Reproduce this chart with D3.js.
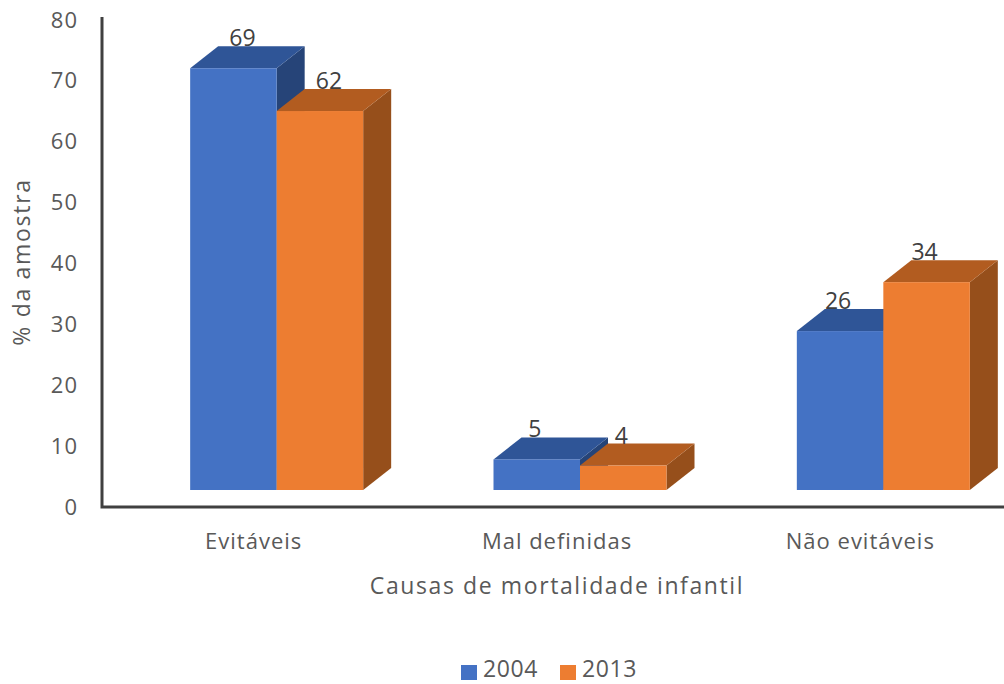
<!DOCTYPE html>
<html>
<head>
    <meta charset="utf-8">
    <title>Causas de mortalidade infantil</title>
    <style>
        html, body { margin: 0; padding: 0; background: #fff; }
        svg { display: block; }
        text { font-family: "Open Sans", "Noto Sans", sans-serif; fill: #595959; }
        .tick text { font-size: 22px; letter-spacing: 1px; }
        .axis-title { font-size: 23px; }
        .value { font-size: 23px; fill: #404040; text-anchor: middle; }
    </style>
</head>
<body>
<div id="chart"></div>

<script src="https://d3js.org/d3.v7.min.js"></script>
<script>
    const categories = ['Evitáveis', 'Mal definidas', 'Não evitáveis'];
    const years = ['2004', '2013'];
    const values2004 = [69, 5, 26];
    const values2013 = [62, 4, 34];
    const yTicks = [0, 10, 20, 30, 40, 50, 60, 70, 80];

    const colors = {
        '2004': { front: '#4472c4', top: '#2f5597', side: '#264478' },
        '2013': { front: '#ed7d31', top: '#b25c20', side: '#964f1b' }
    };

    const width = 1004;
    const height = 684;
    const axisX = 102;
    const axisY = 507;

    // fake 3D: the front faces sit forward of the floor, the depth runs up and to the right
    const depthX = 28;
    const depthY = 22;
    const frontShift = 23;
    const floorY = 490;

    const svg = d3.select('#chart').append('svg')
        .attr('width', width)
        .attr('height', height);

    const x = d3.scaleBand().domain(categories).range([axisX, 1012]);
    const series = d3.scaleBand().domain(years).range([0, 173]);
    const y = d3.scaleLinear().domain([0, 80]).range([axisY, 20]);
    const barHeight = d3.scaleLinear().domain([0, 80]).range([0, 489]);

    const bars = [];
    categories.forEach((c, i) => {
        bars.push({ category: c, year: '2004', value: values2004[i], index: i });
        bars.push({ category: c, year: '2013', value: values2013[i], index: i });
    });

    function barLeft(d) {
        return x(d.category) + x.bandwidth() / 2 + frontShift - series.bandwidth() + series(d.year);
    }

    const bar = svg.append('g').selectAll('g')
        .data(bars)
        .enter().append('g');

    bar.append('path')
        .attr('fill', d => colors[d.year].side)
        .attr('d', d => {
            const r = barLeft(d) + series.bandwidth();
            const t = floorY - barHeight(d.value);
            return d3.line()([[r, t], [r + depthX, t - depthY], [r + depthX, floorY - depthY], [r, floorY]]);
        });

    bar.append('path')
        .attr('fill', d => colors[d.year].top)
        .attr('d', d => {
            const l = barLeft(d);
            const r = l + series.bandwidth();
            const t = floorY - barHeight(d.value);
            return d3.line()([[l, t], [l + depthX, t - depthY], [r + depthX, t - depthY], [r, t]]);
        });

    bar.append('rect')
        .attr('fill', d => colors[d.year].front)
        .attr('x', barLeft)
        .attr('y', d => floorY - barHeight(d.value))
        .attr('width', series.bandwidth())
        .attr('height', d => barHeight(d.value));

    // the first group's labels are pushed right, clear of the deeper bar behind them
    const labelShift = [9, -2, -2];
    svg.append('g').selectAll('text')
        .data(bars)
        .enter().append('text')
        .attr('class', 'value')
        .attr('x', d => barLeft(d) + series.bandwidth() / 2 + labelShift[d.index])
        .attr('y', d => floorY - barHeight(d.value) - 22)
        .text(d => d.value);

    const yAxis = svg.append('g')
        .attr('transform', `translate(${axisX},0)`)
        .call(d3.axisLeft(y).tickValues(yTicks).tickSize(0).tickPadding(24));
    yAxis.select('.domain').remove();

    const xAxis = svg.append('g')
        .attr('transform', `translate(0,${axisY})`)
        .call(d3.axisBottom(x).tickSize(0).tickPadding(26));
    xAxis.select('.domain').remove();

    svg.append('path')
        .attr('d', `M${axisX},17V${axisY}H${width}`)
        .attr('fill', 'none')
        .attr('stroke', '#404040')
        .attr('stroke-width', 3);

    svg.append('text')
        .attr('class', 'axis-title')
        .attr('text-anchor', 'middle')
        .attr('x', 557)
        .attr('y', 594)
        .style('letter-spacing', '1.6px')
        .text('Causas de mortalidade infantil');

    svg.append('text')
        .attr('class', 'axis-title')
        .attr('text-anchor', 'middle')
        .attr('transform', 'translate(30,262) rotate(-90)')
        .style('letter-spacing', '1.7px')
        .text('% da amostra');

    const legend = svg.append('g').selectAll('g')
        .data(years)
        .enter().append('g')
        .attr('transform', (d, i) => `translate(${461 + i * 99},665)`);

    legend.append('rect')
        .attr('width', 16)
        .attr('height', 15)
        .attr('fill', d => colors[d].front);

    // baseline kept a little high so the descent box stays inside the page
    legend.append('text')
        .attr('x', 22)
        .attr('y', 12)
        .style('font-size', '23px')
        .style('letter-spacing', '0.6px')
        .text(d => d);
</script>
</body>
</html>
